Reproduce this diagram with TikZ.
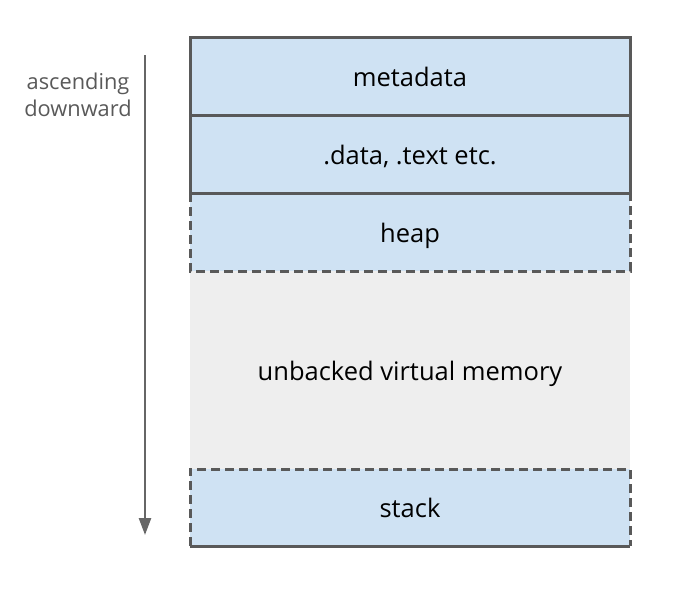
\documentclass[tikz,border=0pt]{standalone}
\usepackage{fontspec}
\setmainfont{Open Sans}
\usetikzlibrary{positioning,arrows.meta}
\usepackage{xcolor}
\definecolor{segblue}{HTML}{CFE2F3}
\definecolor{seggray}{HTML}{EEEEEE}
\definecolor{edgegray}{HTML}{595959}
\definecolor{arrowgray}{HTML}{666666}
\begin{document}
\begin{tikzpicture}[x=1pt,y=-1pt,
  seg/.style={minimum width=440pt,minimum height=78pt,inner sep=0pt,outer sep=0pt,fill=segblue,text height=20pt,text depth=0pt,font=\fontsize{25.5}{30}\selectfont},
  solidedge/.style={draw=edgegray,line width=3pt},
  dashededge/.style={draw=edgegray,line width=3pt,dash pattern=on 9pt off 5pt}]
\useasboundingbox (0,0) rectangle (688,598);
\node[seg] (meta) at (410,76) {metadata};
\node[seg,below=0pt of meta] (data) {.data, .text etc.};
\node[seg,below=0pt of data] (heap) {heap};
\node[seg,fill=seggray,minimum height=198pt,below=0pt of heap] (unbacked) {unbacked virtual memory};
\node[seg,minimum height=77pt,below=0pt of unbacked] (stack) {stack};
\draw[dashededge] (heap.north west) -- (heap.south west) -- (heap.south east) -- (heap.north east);
\draw[dashededge] (stack.south west) -- (stack.north west) -- (stack.north east) -- (stack.south east);
\draw[solidedge] (stack.south west) -- (stack.south east);
\draw[solidedge] (meta.north west) rectangle (data.south east);
\draw[solidedge] (meta.south west) -- (meta.south east);
\coordinate (arrowtop) at (145,55);
\coordinate (arrowbot) at (145,535);
\draw[arrowgray,line width=2.5pt,-{Triangle[length=17pt,width=12pt]}] (arrowtop) -- (arrowbot);
\node[align=center,text=edgegray,font=\fontsize{21.8}{27}\selectfont] (order) at (78,95) {ascending\\downward};
\end{tikzpicture}
\end{document}
